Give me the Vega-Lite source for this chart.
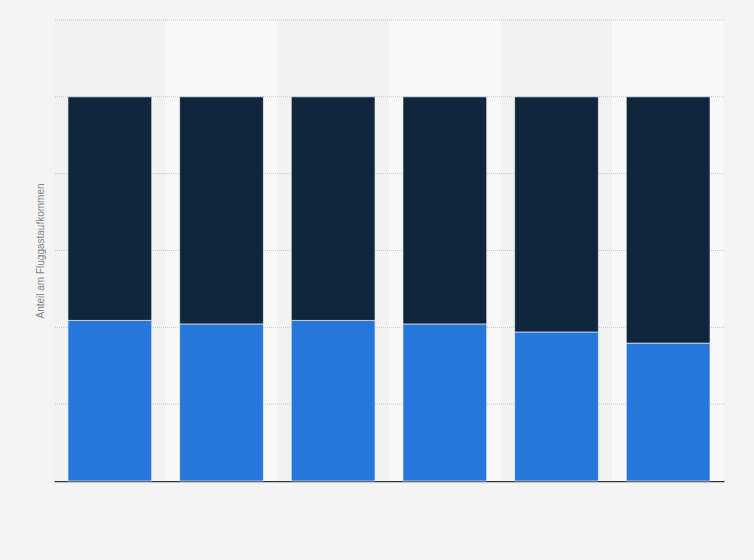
{
  "$schema": "https://vega.github.io/schema/vega-lite/v6.json",
  "width": 670,
  "height": 461,
  "autosize": "none",
  "padding": {"left": 54, "top": 20, "right": 30, "bottom": 79},
  "background": "#f4f4f4",
  "view": {"stroke": null},
  "datasets": {
    "shares": [
      {"period": "1", "segment": "Anteil A", "share": 41.8},
      {"period": "1", "segment": "Anteil B", "share": 58.2},
      {"period": "2", "segment": "Anteil A", "share": 40.9},
      {"period": "2", "segment": "Anteil B", "share": 59.1},
      {"period": "3", "segment": "Anteil A", "share": 41.8},
      {"period": "3", "segment": "Anteil B", "share": 58.2},
      {"period": "4", "segment": "Anteil A", "share": 40.9},
      {"period": "4", "segment": "Anteil B", "share": 59.1},
      {"period": "5", "segment": "Anteil A", "share": 38.8},
      {"period": "5", "segment": "Anteil B", "share": 61.2},
      {"period": "6", "segment": "Anteil A", "share": 35.9},
      {"period": "6", "segment": "Anteil B", "share": 64.1}
    ],
    "periods": [
      {"period": "1"}, {"period": "2"}, {"period": "3"},
      {"period": "4"}, {"period": "5"}, {"period": "6"}
    ],
    "gridlines": [
      {"v": 20}, {"v": 40}, {"v": 60}, {"v": 80}, {"v": 100}, {"v": 120}
    ]
  },
  "layer": [
    {
      "data": {"name": "periods"},
      "mark": {"type": "bar"},
      "encoding": {
        "x": {"field": "period", "type": "nominal", "axis": null,
              "scale": {"paddingInner": 0, "paddingOuter": 0}},
        "y": {"datum": 0, "type": "quantitative", "scale": {"domain": [0, 120]}},
        "y2": {"datum": 120},
        "color": {
          "condition": {"test": "indexof(['2','4','6'], datum.period) >= 0", "value": "#f8f8f8"},
          "value": "#f2f2f2"
        }
      }
    },
    {
      "data": {"name": "gridlines"},
      "mark": {"type": "rule", "color": "#c8c8c8", "strokeDash": [1, 1], "strokeWidth": 1},
      "encoding": {
        "y": {"field": "v", "type": "quantitative"}
      }
    },
    {
      "data": {"name": "shares"},
      "mark": {"type": "bar", "stroke": "#ffffff", "strokeWidth": 1, "strokeOpacity": 0.6},
      "encoding": {
        "x": {
          "field": "period", "type": "nominal", "title": null,
          "scale": {"paddingInner": 0.25, "paddingOuter": 0.125},
          "axis": {"labels": false, "ticks": false, "domainColor": "#333333", "domainWidth": 1.3, "grid": false}
        },
        "y": {
          "field": "share", "type": "quantitative", "stack": "zero",
          "scale": {"domain": [0, 120]},
          "title": "Anteil am Fluggastaufkommen",
          "axis": {
            "labels": false, "ticks": false, "domain": false, "grid": false,
            "tickCount": 6, "titleFont": "Liberation Sans", "titleFontSize": 10,
            "titleFontWeight": "normal", "titleColor": "#848484", "titlePadding": 9
          }
        },
        "color": {
          "field": "segment", "type": "nominal",
          "sort": ["Anteil A", "Anteil B"],
          "scale": {"domain": ["Anteil A", "Anteil B"], "range": ["#2776db", "#0f263d"]},
          "legend": null
        },
        "order": {"field": "segment", "sort": "ascending"}
      }
    }
  ],
  "resolve": {"scale": {"x": "independent"}}
}
